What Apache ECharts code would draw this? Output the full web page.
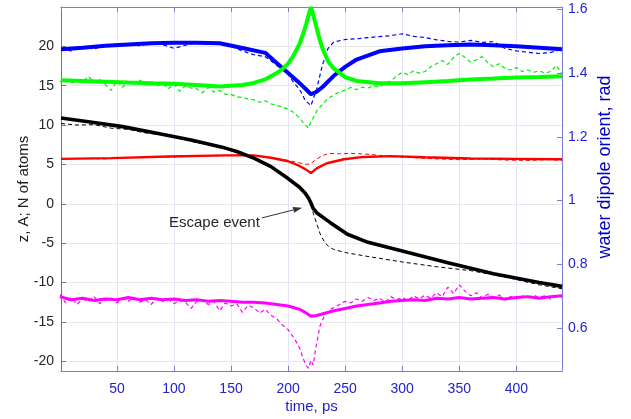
<!DOCTYPE html>
<html><head><meta charset="utf-8">
<script src="https://cdn.jsdelivr.net/npm/echarts@6/dist/echarts.min.js"></script>
<style>html,body{margin:0;padding:0;background:#fff}#c{width:631px;height:419px}</style>
</head><body><div id="c"></div>
<script>
// ---------- data (time in ps) ----------
// Blue: water dipole orientation (right axis, rad)
const tBlue = [1,20,40,60,80,100,120,140,160,180,190,200,205,210,215,220,225,230,240,250,260,280,300,320,340,360,380,400,420,440];
const vBlue = [1.475,1.480,1.486,1.490,1.494,1.496,1.496,1.494,1.479,1.464,1.432,1.401,1.385,1.369,1.352,1.334,1.342,1.356,1.392,1.420,1.443,1.469,1.478,1.485,1.488,1.490,1.488,1.485,1.480,1.475];
const tBlueD = [1,10,20,30,40,50,60,70,80,90,100,110,120,130,140,150,160,170,180,190,200,205,210,215,220,225,230,235,240,250,260,270,280,290,300,310,320,330,340,350,360,370,380,390,400,410,420,430,440];
const vBlueD = [1.478,1.470,1.482,1.476,1.488,1.484,1.492,1.486,1.495,1.490,1.478,1.488,1.496,1.490,1.492,1.485,1.470,1.458,1.452,1.425,1.398,1.370,1.350,1.315,1.298,1.350,1.425,1.478,1.498,1.506,1.508,1.512,1.515,1.518,1.524,1.516,1.512,1.505,1.500,1.498,1.503,1.497,1.499,1.478,1.470,1.466,1.462,1.465,1.475];

// Green (left axis)
const tGreen = [1,20,40,60,80,100,120,140,160,170,180,190,195,200,205,210,213,216,218,220,222,224,227,230,235,240,250,260,280,300,320,340,360,380,400,420,440];
const vGreen = [15.68,15.6,15.5,15.4,15.32,15.25,15.1,14.9,15.08,15.35,15.8,16.6,17.1,17.8,18.9,20.3,21.5,22.9,24.0,25.0,24.0,22.9,21.2,19.8,18.1,17.2,16.1,15.6,15.3,15.3,15.45,15.6,15.78,15.9,16.03,16.1,16.2];
const tGreenD = [0,5,10,15,20,25,30,35,40,45,50,55,60,65,70,75,80,85,90,95,100,105,110,115,120,125,130,135,140,145,150,155,160,165,170,175,180,185,190,195,200,205,210,215,218,220,222,225,230,235,240,245,250,255,260,265,270,275,280,285,290,295,300,305,310,315,320,325,330,335,340,345,350,355,360,365,370,375,380,385,390,395,400,405,410,415,420,425,430,435,440];
const vGreenD = [15.5,15.9,15.3,15.7,15.5,16.2,15.4,15.8,15.1,14.4,15.6,14.8,15.5,15.2,15.7,15.3,15.6,15.0,15.3,14.6,15.2,14.3,15.0,14.7,14.6,14.1,14.8,14.2,14.4,13.9,13.9,13.6,13.5,13.3,13.2,12.9,13.1,12.7,12.5,12.3,12.0,11.6,10.9,10.0,9.6,10.4,10.9,11.8,12.6,13.4,13.8,14.2,14.4,14.8,14.5,14.8,14.7,15.0,14.8,15.3,15.6,16.2,16.7,16.4,16.9,16.6,16.8,17.4,17.8,18.2,17.7,18.6,19.1,18.6,18.0,18.3,18.7,17.9,17.4,17.8,17.2,17.0,17.3,16.8,17.0,16.7,16.9,16.6,16.8,17.6,16.5];

// Black: z (left axis)
const tBlack = [1,25,55,85,115,145,155,170,185,200,210,215,218,220,222,225,237,252,270,300,340,380,420,440];
const vBlack = [10.9,10.43,9.8,8.95,8.1,7.07,6.64,5.8,4.72,3.2,2.1,1.35,0.7,0.1,-0.6,-1.14,-2.4,-3.88,-4.9,-6.0,-7.5,-8.9,-10.0,-10.5];
const tBlackD = [1,15,30,45,60,75,90,105,120,135,150,165,180,195,205,212,218,220,222,225,228,232,236,240,250,270,300,330,360,390,420,440];
const vBlackD = [10.2,10.0,10.05,9.6,9.45,9.0,8.75,8.3,7.75,7.4,6.85,6.0,5.2,3.9,2.7,1.8,0.9,0.0,-1.2,-2.5,-3.8,-4.9,-5.5,-5.8,-6.2,-6.7,-7.4,-8.0,-8.5,-9.3,-10.3,-10.8];

// Red (left axis)
const tRed = [1,45,95,145,170,185,200,210,215,220,225,234,249,266,290,320,360,400,440];
const vRed = [5.7,5.8,6.0,6.15,6.15,5.85,5.4,4.8,4.4,3.9,4.5,5.15,5.65,5.95,6.05,5.9,5.75,5.7,5.65];
const tRedD = [1,20,40,60,80,100,120,140,160,175,190,200,210,216,220,224,230,236,245,255,270,290,310,330,350,370,390,410,430,440];
const vRedD = [5.65,5.75,5.7,5.85,5.9,5.95,6.05,6.1,6.2,6.1,5.75,5.5,5.2,5.0,5.1,5.6,6.1,6.4,6.35,6.4,6.3,6.0,5.85,5.7,5.6,5.7,5.55,5.5,5.6,5.5];

// Magenta (left axis)
const tMag = [0,10,20,30,40,50,60,70,80,90,100,110,120,130,140,150,160,170,180,190,200,210,215,220,225,230,240,250,260,270,280,290,300,310,320,330,340,350,360,370,380,390,400,410,420,430,440];
const vMag = [-11.8,-12.2,-12.0,-12.3,-12.1,-12.2,-11.9,-12.2,-12.0,-12.2,-12.1,-12.3,-12.2,-12.4,-12.3,-12.4,-12.5,-12.5,-12.6,-12.8,-13.0,-13.4,-13.8,-14.3,-14.2,-14.0,-13.6,-13.3,-13.0,-12.8,-12.6,-12.4,-12.3,-12.2,-12.3,-12.0,-12.1,-11.9,-12.1,-12.0,-11.9,-12.1,-11.9,-11.8,-12.0,-11.8,-11.7];
const tMagD = [0,5,10,15,20,25,30,35,40,45,50,55,60,65,70,75,80,85,90,95,100,105,110,115,120,125,130,135,140,145,150,155,160,165,170,175,180,185,190,195,200,205,210,213,216,218,220,222,224,226,228,232,236,240,245,250,255,260,265,270,275,280,285,290,295,300,305,310,315,320,325,330,335,340,345,350,355,360,365,370,375,380,385,390,395,400,405,410,415,420,425,430,435,440];
const vMagD = [-11.5,-12.6,-11.9,-12.8,-12.1,-12.4,-11.8,-12.7,-12.2,-12.0,-12.6,-12.1,-12.4,-11.9,-12.5,-12.2,-12.8,-12.0,-12.4,-12.1,-12.7,-12.3,-12.5,-13.3,-12.4,-12.2,-12.8,-12.4,-13.6,-12.6,-13.0,-12.7,-13.8,-12.9,-13.2,-13.9,-13.4,-14.2,-14.6,-15.4,-16.0,-17.0,-18.3,-19.6,-20.6,-20.9,-19.9,-20.5,-18.5,-17.0,-15.5,-14.2,-13.5,-13.2,-12.8,-12.4,-12.6,-12.1,-12.4,-11.9,-12.3,-12.0,-12.5,-11.8,-12.2,-11.9,-12.3,-11.7,-12.1,-11.6,-12.0,-11.3,-11.8,-10.6,-11.4,-10.3,-11.1,-11.7,-11.3,-12.0,-11.5,-11.9,-11.6,-12.2,-11.8,-12.1,-11.7,-12.0,-11.6,-11.9,-11.7,-12.1,-11.8,-11.9];

// Annotation (data units, left axis)
const annText = 'Escape event';
const annTail = [177, -1.8];
const annHead = [212.3, -0.5];

// ---------- chart ----------
const FONT = '"Liberation Sans", Arial, sans-serif';
const pairs = (t, v) => t.map((x, i) => [x, v[i]]);
const axisBlue = '#7b7bd8';
const chart = echarts.init(document.getElementById('c'), null, {renderer: 'canvas'});

function ln(name, t, v, color, width, dashed, yIdx) {
  return {
    name, type: 'line', data: pairs(t, v), yAxisIndex: yIdx, xAxisIndex: 0,
    showSymbol: false, symbol: 'none', smooth: false, animation: false,
    lineStyle: {color, width, type: dashed ? [4, 3] : 'solid'},
    itemStyle: {color}, z: dashed ? 2 : 3
  };
}

chart.setOption({
  animation: false,
  textStyle: {fontFamily: FONT},
  grid: {left: 61, right: 69, top: 7, bottom: 46, containLabel: false},
  xAxis: [{
    type: 'value', min: 1, max: 440, splitNumber: 9, position: 'bottom',
    axisLine: {show: true, onZero: false, lineStyle: {color: axisBlue, width: 1}},
    axisTick: {show: true, inside: true, length: 5, lineStyle: {color: axisBlue}},
    axisLabel: {color: '#2323c8', fontSize: 14, fontFamily: FONT, margin: 11, showMinLabel: false, showMaxLabel: false},
    splitLine: {show: true, lineStyle: {color: '#e4e4f6', width: 1}},
    name: 'time, ps', nameLocation: 'middle', nameGap: 28, nameMoveOverlap: false,
    nameTextStyle: {color: '#1f1fc0', fontSize: 15, fontFamily: FONT}
  }, {
    type: 'value', min: 1, max: 440, splitNumber: 9, position: 'top',
    axisLine: {show: true, onZero: false, lineStyle: {color: axisBlue, width: 1}},
    axisTick: {show: true, inside: true, length: 5, lineStyle: {color: axisBlue}},
    axisLabel: {show: false}, splitLine: {show: false}
  }],
  yAxis: [{
    type: 'value', min: -21.25, max: 25, splitNumber: 9, position: 'left',
    axisLine: {show: true, onZero: false, lineStyle: {color: '#70709a', width: 1}},
    axisTick: {show: true, inside: true, length: 5, lineStyle: {color: '#70709a'}},
    axisLabel: {color: '#262626', fontSize: 14, fontFamily: FONT, margin: 7, showMinLabel: false, showMaxLabel: false},
    splitLine: {show: true, lineStyle: {color: '#e8e8e8', width: 1}},
    name: 'z, A; N of atoms', nameLocation: 'middle', nameGap: 30, nameMoveOverlap: false,
    nameTextStyle: {color: '#1a1a1a', fontSize: 15, fontFamily: FONT}
  }, {
    type: 'value', min: 0.465, max: 1.608, splitNumber: 6, position: 'right',
    axisLine: {show: true, onZero: false, lineStyle: {color: axisBlue, width: 1}},
    axisTick: {show: true, inside: true, length: 5, lineStyle: {color: axisBlue}},
    axisLabel: {color: '#1f1fd0', fontSize: 14, fontFamily: FONT, margin: 6, showMinLabel: false, showMaxLabel: false},
    splitLine: {show: false}
  }],
  series: [
    ln('red dashed', tRedD, vRedD, '#ff0000', 1, true, 0),
    ln('black dashed', tBlackD, vBlackD, '#000000', 1, true, 0),
    ln('magenta dashed', tMagD, vMagD, '#ff00ff', 1.2, true, 0),
    ln('blue dashed', tBlueD, vBlueD, '#0000ff', 1.2, true, 1),
    ln('green dashed', tGreenD, vGreenD, '#00ee00', 1.2, true, 0),
    ln('red', tRed, vRed, '#ff0000', 2.4, false, 0),
    ln('magenta', tMag, vMag, '#ff00ff', 3, false, 0),
    ln('black', tBlack, vBlack, '#000000', 3.6, false, 0),
    ln('blue', tBlue, vBlue, '#0000ff', 4, false, 1),
    ln('green', tGreen, vGreen, '#00ff00', 4, false, 0)
  ]
});

// annotation + right axis title
const pT = chart.convertToPixel({xAxisIndex: 0, yAxisIndex: 0}, annTail);
const pH = chart.convertToPixel({xAxisIndex: 0, yAxisIndex: 0}, annHead);
const ang = Math.atan2(pH[1] - pT[1], pH[0] - pT[0]);
const L = 9, W = 3;
const bx = pH[0] - L * Math.cos(ang), by = pH[1] - L * Math.sin(ang);
const nx = -Math.sin(ang), ny = Math.cos(ang);
chart.setOption({
  graphic: [
    {type: 'line', shape: {x1: pT[0], y1: pT[1], x2: bx, y2: by}, style: {stroke: '#333', lineWidth: 1}, z: 10},
    {type: 'polygon', shape: {points: [[pH[0], pH[1]], [bx + nx * W, by + ny * W], [bx - nx * W, by - ny * W]]}, style: {fill: '#333'}, z: 10},
    {type: 'text', x: pT[0] - 2, y: pT[1] + 5, z: 10,
     style: {text: annText, fill: '#262626', font: '15px ' + FONT, align: 'right', verticalAlign: 'middle'}},
    {type: 'text', x: 605, y: 167, rotation: Math.PI / 2, z: 10,
     style: {text: 'water dipole orient, rad', fill: '#0000c8', font: '18px ' + FONT, align: 'center', verticalAlign: 'middle'}}
  ]
});
</script>
</body></html>
